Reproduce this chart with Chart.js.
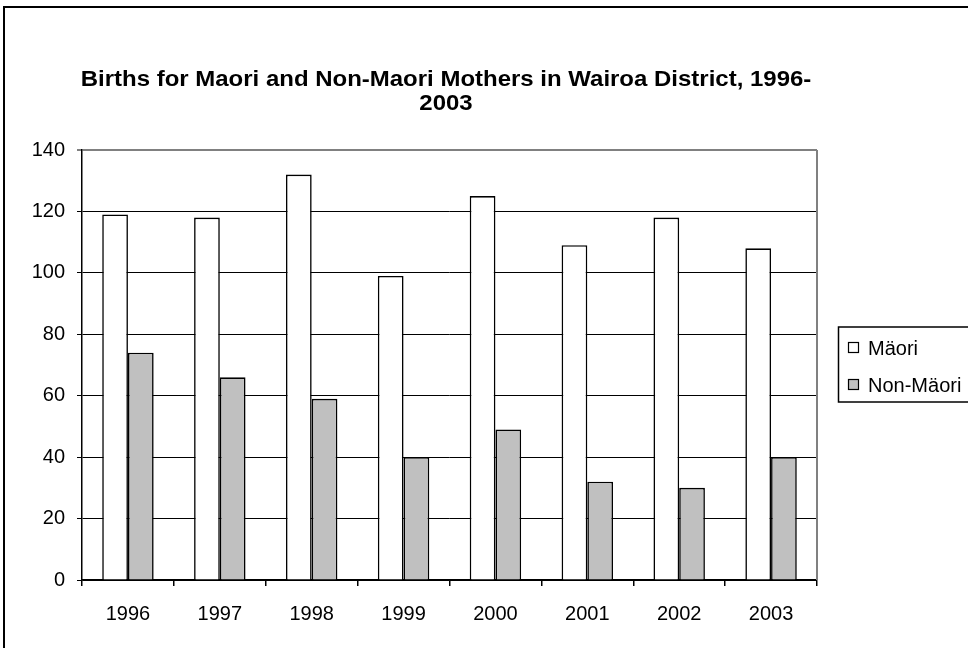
<!DOCTYPE html>
<html>
<head>
<meta charset="utf-8">
<script src="https://cdn.jsdelivr.net/npm/chart.js@4.4.1/dist/chart.umd.min.js"></script>
<style>
  html, body { margin: 0; padding: 0; background: #fff; }
  #wrap { width: 968px; height: 648px; position: relative; }
</style>
</head>
<body>
<div id="wrap"><canvas id="c" width="968" height="648"></canvas></div>
<script>
const titleLines = ["Births for Maori and Non-Maori Mothers in Wairoa District, 1996-", "2003"];
const years = ["1996", "1997", "1998", "1999", "2000", "2001", "2002", "2003"];
const maoriLabel = "Mäori";
const nonMaoriLabel = "Non-Mäori";
const maori = [119, 118, 132, 99, 125, 109, 118, 108];
const nonMaori = [74, 66, 59, 40, 49, 32, 30, 40];
const yTicks = [0, 20, 40, 60, 80, 100, 120, 140];

const FONT = "'Liberation Sans', Arial, sans-serif";

const framePlugin = {
  id: 'frame',
  beforeDraw(chart) {
    const ctx = chart.ctx;
    ctx.save();
    ctx.fillStyle = '#fff';
    ctx.fillRect(0, 0, chart.width, chart.height);
    ctx.strokeStyle = '#000';
    ctx.lineWidth = 2;
    ctx.strokeRect(4, 7, 1000, 700);
    ctx.restore();
  },
  afterDatasetsDraw(chart) {
    const ctx = chart.ctx;
    const a = chart.chartArea;
    ctx.save();
    // plot border right (gray)
    ctx.strokeStyle = '#808080';
    ctx.lineWidth = 2;
    ctx.beginPath();
    ctx.moveTo(a.right, a.top);
    ctx.lineTo(a.right, a.bottom);
    ctx.stroke();
    // title (slightly wide, as in the reference)
    ctx.fillStyle = '#000';
    ctx.font = 'bold 22px ' + FONT;
    ctx.textAlign = 'center';
    ctx.textBaseline = 'middle';
    ctx.save();
    ctx.translate(446, 0);
    ctx.scale(1.09, 1);
    ctx.fillText(titleLines[0], 0, 80);
    ctx.fillText(titleLines[1], 0, 104);
    ctx.restore();
    // legend
    ctx.lineWidth = 1.5;
    ctx.strokeStyle = '#000';
    ctx.strokeRect(838.5, 327, 200, 75);
    const ds = chart.data.datasets;
    const ys = [348, 385];
    ctx.font = '20px ' + FONT;
    ctx.textAlign = 'left';
    ds.forEach((d, i) => {
      ctx.fillStyle = d.backgroundColor;
      ctx.fillRect(848.5, ys[i] - 5.5, 10, 10);
      ctx.lineWidth = 1.2;
      ctx.strokeRect(848.5, ys[i] - 5.5, 10, 10);
      ctx.fillStyle = '#000';
      ctx.fillText(d.label, 868, ys[i] + 1);
    });
    ctx.restore();
  }
};

new Chart(document.getElementById('c'), {
  type: 'bar',
  data: {
    labels: years,
    datasets: [
      { label: maoriLabel, data: maori, backgroundColor: '#FFFFFF', borderColor: '#000', borderWidth: 1.6,
        categoryPercentage: 0.56, barPercentage: 1.0 },
      { label: nonMaoriLabel, data: nonMaori, backgroundColor: '#C0C0C0', borderColor: '#000', borderWidth: 1.6,
        categoryPercentage: 0.56, barPercentage: 1.0 }
    ]
  },
  options: {
    responsive: false,
    animation: false,
    devicePixelRatio: 1,
    layout: { padding: { left: 0, top: 150, right: 151, bottom: 0 } },
    plugins: {
      legend: { display: false },
      title: { display: false },
      tooltip: { enabled: false }
    },
    scales: {
      x: {
        offset: true,
        afterFit: s => { s.height = 68; },
        grid: { offset: true, drawOnChartArea: false, drawTicks: true, tickLength: 6, color: '#000', lineWidth: 1.5 },
        border: { display: true, color: '#000', width: 1.5 },
        ticks: { color: '#000', font: { family: FONT, size: 20 }, padding: 16, maxRotation: 0 }
      },
      y: {
        min: 0, max: 140,
        afterFit: s => { s.width = 82; },
        afterBuildTicks: s => { s.ticks = yTicks.map(v => ({ value: v })); },
        grid: {
          color: c => (c.tick && c.tick.value === 140) ? '#808080' : '#000',
          lineWidth: c => (c.tick && c.tick.value === 140) ? 2 : 1,
          tickLength: 5, drawTicks: true
        },
        border: { display: true, color: '#000', width: 1.5 },
        ticks: { color: '#000', font: { family: FONT, size: 20 }, padding: 12 }
      }
    }
  },
  plugins: [framePlugin]
});
</script>
</body>
</html>
